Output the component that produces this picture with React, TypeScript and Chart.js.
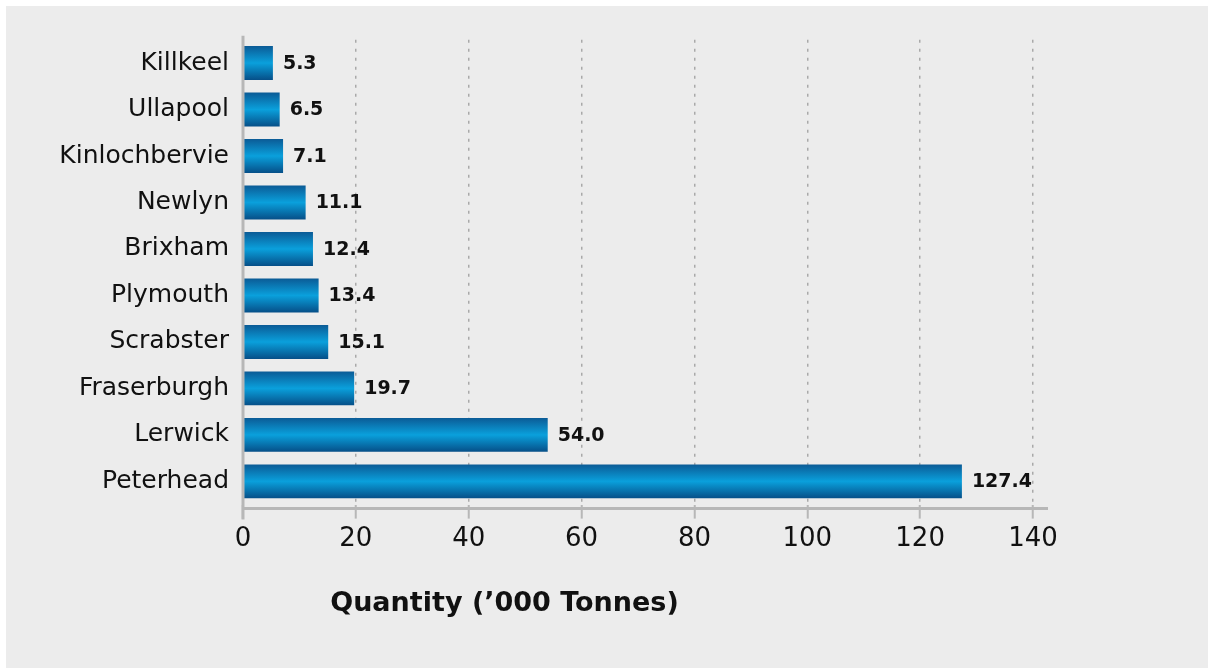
import React, { useEffect, useRef } from "react";
import { Chart, registerables } from "chart.js";

Chart.register(...registerables);

// Landings by port, thousand tonnes
const ports = [
  "Killkeel",
  "Ullapool",
  "Kinlochbervie",
  "Newlyn",
  "Brixham",
  "Plymouth",
  "Scrabster",
  "Fraserburgh",
  "Lerwick",
  "Peterhead",
];
const quantities = [5.3, 6.5, 7.1, 11.1, 12.4, 13.4, 15.1, 19.7, 54.0, 127.4];
const xTicks = [0, 20, 40, 60, 80, 100, 120, 140];
const xTitle = "Quantity (\u2019000 Tonnes)";

const FONT = "'DejaVu Sans', 'Noto Sans', sans-serif";
const BAR_PCT = 0.73;

// Vertical shading so each bar looks like a rounded tube
function barFill(ctx: any) {
  const chart = ctx.chart;
  if (!chart.chartArea || !chart.scales.y) return "#0a86c6";
  const y = chart.scales.y;
  const cy = y.getPixelForValue(ctx.dataIndex);
  const step = Math.abs(y.getPixelForValue(1) - y.getPixelForValue(0));
  const half = (step * BAR_PCT) / 2;
  const g = chart.ctx.createLinearGradient(0, cy - half, 0, cy + half);
  g.addColorStop(0, "#0b5b96");
  g.addColorStop(0.5, "#0aa0dc");
  g.addColorStop(1, "#064f88");
  return g;
}

const axisLines = {
  id: "axisLines",
  afterDatasetsDraw(chart: any) {
    const { ctx, chartArea } = chart;
    ctx.save();
    ctx.strokeStyle = "#b7b7b7";
    ctx.lineWidth = 3;
    ctx.beginPath();
    ctx.moveTo(chartArea.left, chartArea.top - 4);
    ctx.lineTo(chartArea.left, chartArea.bottom + 15);
    ctx.moveTo(chartArea.left, chartArea.bottom + 4);
    ctx.lineTo(chartArea.right + 15, chartArea.bottom + 4);
    ctx.stroke();
    ctx.restore();
  },
};

const valueLabels = {
  id: "valueLabels",
  afterDatasetsDraw(chart: any) {
    const { ctx } = chart;
    const meta = chart.getDatasetMeta(0);
    ctx.save();
    ctx.font = `bold 19px ${FONT}`;
    ctx.fillStyle = "#111";
    ctx.textAlign = "left";
    ctx.textBaseline = "middle";
    meta.data.forEach((bar: any, i: number) => {
      ctx.fillText(quantities[i].toFixed(1), bar.x + 10, bar.y + 1);
    });
    ctx.restore();
  },
};

const axisTitle = {
  id: "axisTitle",
  afterDraw(chart: any) {
    const { ctx, chartArea } = chart;
    ctx.save();
    ctx.font = `bold 27px ${FONT}`;
    ctx.fillStyle = "#111";
    ctx.textAlign = "center";
    ctx.textBaseline = "middle";
    const x = chartArea.left + (chartArea.right - chartArea.left) * 0.331;
    ctx.fillText(xTitle, x, chartArea.bottom + 99);
    ctx.restore();
  },
};

export default function App() {
  const canvasRef = useRef<HTMLCanvasElement>(null);

  useEffect(() => {
    document.body.style.margin = "0";
    const chart = new Chart(canvasRef.current!, {
      type: "bar",
      data: {
        labels: ports,
        datasets: [
          {
            data: quantities,
            backgroundColor: barFill,
            borderWidth: 0,
            barPercentage: BAR_PCT,
            categoryPercentage: 1,
          },
        ],
      },
      options: {
        indexAxis: "y",
        responsive: false,
        animation: false,
        layout: { padding: { top: 33.8, right: 175, left: 0, bottom: 0 } },
        plugins: {
          legend: { display: false },
          tooltip: { enabled: false },
        },
        scales: {
          y: {
            afterFit: (s: any) => {
              s.width = 237;
            },
            grid: { display: false, drawTicks: false },
            border: { display: false },
            ticks: {
              color: "#111",
              padding: 14,
              font: { family: FONT, size: 25 },
            },
          },
          x: {
            min: 0,
            max: 140,
            afterFit: (s: any) => {
              s.height = 163.4;
            },
            afterBuildTicks: (s: any) => {
              s.ticks = xTicks.map((v) => ({ value: v }));
            },
            border: { display: false, dash: [3, 6] },
            grid: {
              color: "#a9a9a9",
              lineWidth: 1.5,
              tickColor: "#b7b7b7",
              tickWidth: 2,
              tickLength: 14,
              tickBorderDash: [],
            },
            ticks: {
              color: "#111",
              padding: 5,
              font: { family: FONT, size: 26 },
            },
          },
        },
      },
      plugins: [axisLines, valueLabels, axisTitle],
    });
    return () => chart.destroy();
  }, []);

  return (
    <div
      style={{
        position: "fixed",
        left: 0,
        top: 0,
        width: 1208,
        height: 668,
        background: "#fff",
      }}
    >
      <div
        style={{
          position: "absolute",
          left: 6,
          top: 6,
          width: 1202,
          height: 662,
          background: "#ececec",
        }}
      >
        <canvas ref={canvasRef} width={1202} height={662} />
      </div>
    </div>
  );
}
